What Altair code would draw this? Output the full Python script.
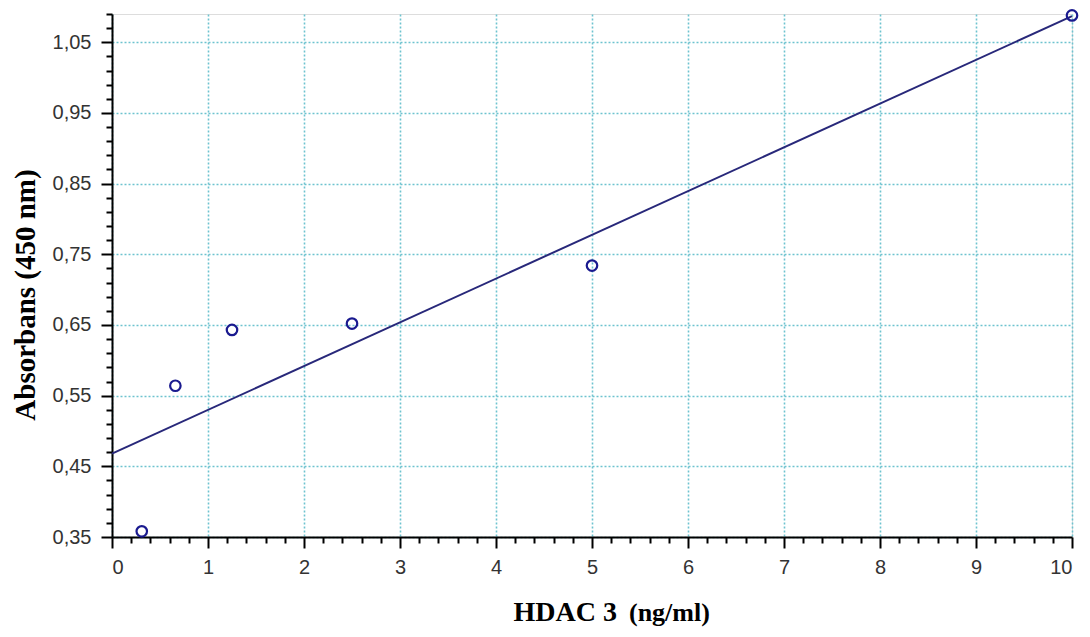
import altair as alt
import pandas as pd

# data
conc = [0.31, 0.66, 1.25, 2.5, 5.0, 10.0]
absorb = [0.358, 0.564, 0.643, 0.652, 0.734, 1.088]
fit_x = [0.0, 10.0]
fit_y = [0.468, 1.087]

x_ticks = [round(i * 0.2, 1) for i in range(51)]
y_ticks = [round(0.35 + 0.02 * i, 2) for i in range(38)]

pts = pd.DataFrame({"x": conc, "y": absorb})
fit = pd.DataFrame({"x": fit_x, "y": fit_y})

xs = alt.Scale(domain=[0, 10], nice=False, zero=False)
ys = alt.Scale(domain=[0.35, 1.09], nice=False, zero=False)

LBL = "Liberation Sans"
SERIF = "Liberation Serif"
GRID = "#6ec3cf"

x_major_test = "abs(datum.value - round(datum.value)) < 0.001"
y_major_test = "round((datum.value - 0.35) * 100) % 10 === 0"

x_axis = alt.Axis(
    values=x_ticks, tickCount=500, orient="bottom", title=None, grid=True,
    gridColor=GRID, gridDash=[2, 2], gridWidth=1.6,
    gridOpacity={"condition": {"test": x_major_test, "value": 1}, "value": 0},
    domain=True, domainColor="black", domainWidth=2,
    tickSize={"condition": {"test": x_major_test, "value": 11}, "value": 6},
    tickWidth=2, tickColor="black",
    labelFont=LBL, labelFontSize=20, labelColor="#333333", labelPadding=9,
    labelOverlap=False,
    labelExpr="abs(datum.value - round(datum.value)) < 0.001 ? format(datum.value, 'd') : ''",
)
y_axis = alt.Axis(
    values=y_ticks, tickCount=500, orient="left", title=None, grid=True,
    gridColor=GRID, gridDash=[2, 2], gridWidth=1.6,
    gridOpacity={"condition": {"test": y_major_test, "value": 1}, "value": 0},
    domain=True, domainColor="black", domainWidth=2,
    tickSize={"condition": {"test": y_major_test, "value": 11}, "value": 6},
    tickWidth=2, tickColor="black",
    labelFont=LBL, labelFontSize=20, labelColor="#333333", labelPadding=10,
    labelOverlap=False,
    labelExpr="round((datum.value - 0.35) * 100) % 10 === 0 ? replace(format(datum.value, '.2f'), '.', ',') : ''",
)

line = alt.Chart(fit).mark_line(color="#28287a", strokeWidth=2).encode(
    x=alt.X("x:Q", scale=xs, axis=x_axis),
    y=alt.Y("y:Q", scale=ys, axis=y_axis),
)

points = alt.Chart(pts).mark_point(shape="circle", filled=False, color="#1a1a8f",
                                   size=110, strokeWidth=2.2, opacity=1).encode(
    x=alt.X("x:Q", scale=xs),
    y=alt.Y("y:Q", scale=ys),
)

one = alt.Data(values=[{}])
t1 = alt.Chart(one).mark_text(font=SERIF, fontSize=28, fontWeight="bold", color="black",
                              align="right", baseline="alphabetic").encode(
    x=alt.value(505), y=alt.value(607), text=alt.value("HDAC 3"))
t2 = alt.Chart(one).mark_text(font=SERIF, fontSize=26, fontWeight="bold", color="black",
                              align="left", baseline="alphabetic").encode(
    x=alt.value(517), y=alt.value(607), text=alt.value("(ng/ml)"))
t3 = alt.Chart(one).mark_text(font=SERIF, fontSize=29, fontWeight="bold", color="black",
                              align="center", baseline="middle", angle=270).encode(
    x=alt.value(-86), y=alt.value(281), text=alt.value("Absorbans (450 nm)"))

chart = alt.layer(line, points, t1, t2, t3).properties(
    width=960, height=523,
    autosize=alt.AutoSizeParams(type="none"),
    padding={"left": 104, "top": 6, "right": 10, "bottom": 90},
).configure_view(stroke="black", strokeWidth=2).configure(background="white")

chart.save("out.html", embed_options={"renderer": "svg", "actions": False})
